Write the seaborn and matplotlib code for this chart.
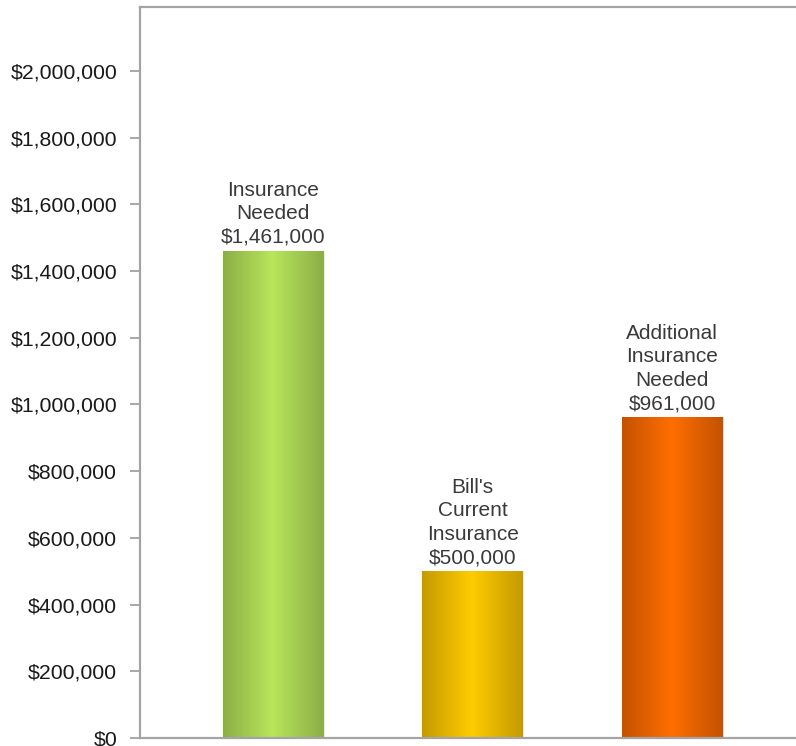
import numpy as np
import pandas as pd
import matplotlib
matplotlib.use("Agg")
import matplotlib.pyplot as plt
from matplotlib.colors import LinearSegmentedColormap
from matplotlib.ticker import FuncFormatter
import seaborn as sns

# Insurance summary values
categories = ["Insurance\nNeeded", "Bill's\nCurrent\nInsurance", "Additional\nInsurance\nNeeded"]
amounts = [1461000, 500000, 961000]
# (edge shade, centre highlight) for each bar
bar_edge_colors = ["#8CAE46", "#C49A00", "#C45200"]
bar_mid_colors = ["#B8E65C", "#FFCC00", "#FF6E00"]
y_ticks = [0, 200000, 400000, 600000, 800000, 1000000, 1200000, 1400000,
           1600000, 1800000, 2000000]

sns.set_theme(style="white")
plt.rcParams["font.family"] = ["Liberation Sans", "DejaVu Sans"]

df = pd.DataFrame({"category": categories, "amount": amounts})

fig = plt.figure(figsize=(7.96, 7.46), dpi=100)
ax = fig.add_axes([140 / 796, 8 / 746, 1.0 - 140 / 796, (738 - 7) / 746])

sns.barplot(data=df, x="category", y="amount", hue="category",
            palette=bar_mid_colors, width=0.506, legend=False, ax=ax,
            saturation=1)

ax.set_xlim(-0.668, 2.62)
ax.set_ylim(0, max(amounts) * 1.5)

# Cylinder-like horizontal shading clipped to each bar
profile = np.linspace(0, 1, 256)
for patch, c_edge, c_mid, val in zip(ax.patches, bar_edge_colors, bar_mid_colors, amounts):
    x0 = patch.get_x()
    w = patch.get_width()
    cmap = LinearSegmentedColormap.from_list(
        "shade", [(0.0, c_edge), (0.49, c_mid), (1.0, c_edge)])
    img = ax.imshow(profile[np.newaxis, :], cmap=cmap, aspect="auto",
                    extent=(x0, x0 + w, 0, val), origin="lower",
                    interpolation="bicubic", zorder=patch.get_zorder() + 0.1)
    img.set_clip_path(patch)
    patch.set_edgecolor((1, 1, 1, 0.35))
    patch.set_linewidth(1.0)

# Value labels above the bars
for i, (cat, val) in enumerate(zip(categories, amounts)):
    ax.annotate(f"{cat}\n${val:,.0f}", xy=(i, val), xytext=(0, 3),
                textcoords="offset points", ha="center", va="bottom",
                fontsize=15, color="#3a3a3a", linespacing=1.3,
                zorder=5)

ax.set_yticks(y_ticks)
ax.yaxis.set_major_formatter(FuncFormatter(lambda v, _: f"${v:,.0f}"))
ax.tick_params(axis="y", which="major", length=7.5, width=1.2, color="#9a9a9a",
               pad=9, labelsize=15.3, labelcolor="#1a1a1a", left=True)
ax.tick_params(axis="x", bottom=False, labelbottom=False)
ax.set_xlabel("")
ax.set_ylabel("")

for side in ["left", "top", "bottom"]:
    ax.spines[side].set_visible(True)
    ax.spines[side].set_color("#a4a4a4")
    ax.spines[side].set_linewidth(1.6)
ax.spines["right"].set_visible(False)

fig.savefig("out.png", dpi=100)
